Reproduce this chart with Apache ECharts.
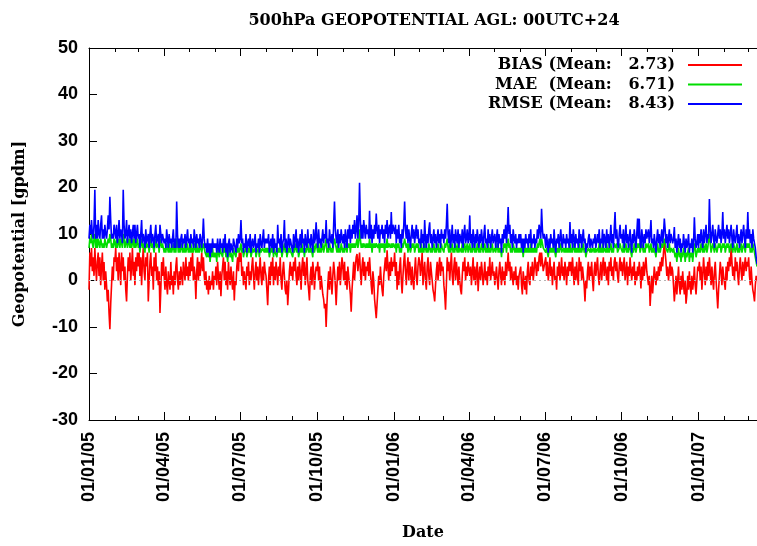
<!DOCTYPE html>
<html>
<head>
<meta charset="utf-8">
<script src="https://cdn.jsdelivr.net/npm/echarts@6/dist/echarts.min.js"></script>
<style>
html, body { margin: 0; padding: 0; background: #fff; }
#chart { width: 757px; height: 546px; }
</style>
</head>
<body>
<div id="chart"></div>
<script>
"use strict"

// daily scores from 01/01/05, one line per month
var bias = [
    -2,6,3,7,2,5,1,7,3,0,4,6,1,5,-1,3,6,0,4,-2,2,-1,-4.5,-2,-7,-10.5,-5,-1,3,0,5,
    4,7,2,5,0,6,3,-1,6,2,5,0,3,-2,-4.5,1,5,2,6,0,3,7,1,4,-1,5,2,6,
    3,6,1,5,-1,4,7,2,0,5,3,6,-4.5,0,4,6,1,3,-2,5,2,6,0,3,-1,2,-7,-2,4,1,5,
    1,-2,3,-1,-3,2,0,-2,4,-1,1,-3,2,-1,3,5,0,-2,2,-1,3,1,-1,4,2,0,5,1,3,0,
    4,1,5,2,6,0,3,1,-4,2,5,0,4,1,3,6,2,5,1,-1,2,-2,0,-3,1,-2,0,-1,2,-2,1,
    0,3,-1,4,1,-2,2,-3.4,1,3,5,0,4,-1,2,-2,4,1,-1,3,0,-2,2,-4.3,0,-1,3,5,2,6,
    4,6,1,3,-1,2,0,-2,3,1,4,-1,2,0,3,5,1,-2,2,4,0,3,-1,2,5,1,-1,3,0,4,2,
    1,-2,-5.3,0,3,-1,4,1,5,-1,3,0,4,2,-1,3,1,5,0,-2,2,4,1,-2,-3,0,-5.3,-2,2,4,1,
    3,0,4,2,5,1,-1,3,0,4,2,-2,3,5,1,4,-1,2,5,0,-2,-4.3,1,3,-1,4,2,-2,1,3,
    2,4,0,3,-2,1,-1,-3,-4,-6,-5,-10,-5,-1,2,-2,3,0,-3,1,4,2,-1,-5.3,-1,3,0,4,-1,2,5,
    3,0,4,-1,2,-2,3,1,-1,-3,-6.7,-2,1,4,0,3,5,5.7,2,4,6,2,-1,3,5,1,4,0,3,2,
    4,1,5,2,-1,-3,2,0,-4,-6,-8.1,-5,-2,1,-1,3,0,-2,-3.4,1,3,5,2,6.5,3,0,4,1,5,2,4,
    3,6,1,4,-2,2,-1,3,5,0,-2.8,1,4,6,2,-1,3,5,0,4,2,-1,3,0,-2,2,5,1,-1,3,5,
    4,1,3,6,-1,2,4,0,-2,3,5,1,-1,4,2,0,-2,-3,-4.5,-1,2,4,0,3,5,1,4,2,
    3,-1,-3,-6.3,-1,5,2,4,0,3,6,1,-1,3,5,0,4,2,-1,3,0,-2,-3,1,4,2,5,0,3,1,4,
    4,1,3,-1,2,5,0,3,-1,2,4,-2.3,1,3,0,4,2,-1,1,4,0,2,-1,3,1,5,0,2,4,1,
    2,-1,1,3,0,-2,2,4,1,-1,3,0,2,-1,4,1,3,6,2,4,0,3,1,-1,2,0,3,-1,1,-2,1,
    1,3,-1,-3,2,0,-2,1,-3,2,4,0,-1,3,1,4,0,2,5,3,1,4,2,5,6,3,6,4,2,3,
    3,5,1,4,0,2,5,1,3,-1,2,4,0,1,-2,3,1,4,0,2,5,1,3,0,4,2,-1,3,1,4,2,
    4,1,5,2,-1,3,0,4,1,-1,5,2,4,0,3,1,-1,-4.5,0,-1.7,2,4,0,3,1,4,0,-2.3,2,4,1,
    3,5,1,-1,2,4,0,3,5,1,4,2,0,3,-1,4,2,5,1,3,0,4,5,2,4,1,-0.5,3,5,2,
    4,1,3,5,0,2,4,-1,3,1,5,2,0,3,1,4,-1,2,0,3,1,4,2,-1.7,3,0,4,1,3,5,2,
    2,-1,1,-5.5,-2,1,-2.8,0,3,1,-1,2,0,3,1,4,2,5,3,6,8.5,6,4,1,3,0,2,4,1,3,
    2,-1,-4.5,-2,1,-3,0,3,-1,-3,1,-2,2,-1,-3,0,-5,-3,1,-2,2,-1,-3,1,-2,0,3,-1,-3,0,3,
    2,4,0,3,-2,1,5,2,-1,3,0,4,1,5,2,-1,3,0,-2,2,4,0,-3,-6,-2,1,4,2,-1,3,1,
    1,-2,3,0,4,2,5,3,7.3,4,1,3,0,5,2,4,1,-1,3,5,2,0,4,1,3,5,2,4,
    3,5,1,-1,3,0,-2,-3,-4.5,-1,1,0
];

var mae = [
    7,9,8,10,8,7,9,10,7,9,7,9,8,7,9,9,7,8,7,9,8,7,8,9,8,10,9,7,8,7,9,
    9,7,9,7,8,9,7,9,8,7,10,9,7,8,9,7,8,9,7,9,7,8,9,7,9,7,8,9,
    7,8,6,8,9,7,8,7,6,9,7,7,8,6,8,9,7,8,7,6,8,9,7,7,8,6,9,8,7,8,7,
    6,7,6,8,7,6,8,6,7,6,7,8,6,7,6,9,8,6,7,6,7,8,6,7,6,8,6,7,8,6,
    7,6,8,6,7,6,8,7,6,8,6,7,6,8,7,6,7,8,7,6,6,5,7,5,6,4,6,5,7,5,6,
    5,6,4,7,6,5,7,6,6,5,7,6,7,5,6,4,6,7,5,6,6,4,7,6,6,5,7,6,7,6,
    7,8,6,7,5,6,6,7,5,6,7,6,7,5,6,7,6,6,7,5,6,6,7,5,7,6,6,7,7,6,7,
    6,7,6,7,5,6,7,6,7,5,7,6,6,5,7,6,7,6,7,5,6,7,8,6,7,5,6,7,6,7,6,
    6,5,7,6,7,8,6,7,5,6,7,6,8,6,7,5,7,6,6,8,6,7,6,7,6,5,8,6,7,8,
    7,6,8,6,7,6,7,8,6,7,7,9,6,7,6,8,7,6,7,6,8,9,8,7,6,8,6,7,6,8,7,
    6,7,6,8,7,6,8,7,8,6,8,7,8,7,8,7,8,9,7,8,11,9,7,8,7,8,8,7,8,7,
    8,7,9,7,8,6,8,7,8,7,8,8,7,8,6,8,7,8,7,8,6,8,7,9,7,8,8,7,8,7,8,
    8,7,8,6,8,7,8,6,7,6,8,7,8,9,8,7,8,6,8,7,6,7,8,7,8,6,7,8,7,8,6,
    7,6,8,6,7,6,8,7,6,7,6,8,8,6,7,6,7,8,6,7,6,7,8,6,7,6,8,7,
    7,6,8,7,8,9,7,6,8,6,7,8,6,7,6,8,7,6,8,6,7,7,6,8,6,7,8,6,7,8,6,
    7,8,6,7,6,8,7,6,7,6,8,7,6,7,6,8,7,6,7,8,6,7,6,8,6,7,6,7,8,6,
    6,7,6,7,8,6,7,6,7,5,7,6,8,7,8,6,8,9,7,8,6,7,6,8,7,6,7,6,7,6,7,
    6,7,6,7,5,7,6,7,6,7,6,7,6,8,6,7,6,7,6,7,6,8,7,8,9,7,9,8,7,7,
    7,6,7,6,5,7,6,7,6,7,6,8,6,5,7,6,7,6,7,8,6,6,7,6,7,6,7,6,7,6,8,
    6,7,6,8,7,6,7,6,7,6,8,6,7,6,7,8,6,7,5,6,6,7,7,6,7,6,6,7,6,7,6,
    6,7,6,8,6,7,6,8,6,7,7,6,8,6,7,6,7,8,6,7,6,8,8,7,8,6,6,7,8,7,
    7,6,8,6,7,8,6,7,6,7,8,6,5,7,6,8,7,6,7,8,7,8,6,6,8,7,6,7,6,8,7,
    7,8,6,7,8,6,7,6,7,6,5,7,8,6,7,6,7,8,7,8,9,8,7,7,6,7,8,6,7,7,
    6,7,7,5,6,4,6,7,5,6,4,6,5,7,6,4,6,5,6,7,4,6,5,6,4,6,8,7,5,6,7,
    6,7,6,8,7,6,8,6,7,8,6,7,7,10,8,6,7,8,7,6,8,7,6,7,8,7,8,6,7,8,7,
    8,6,7,8,7,8,6,7,8,7,6,8,7,6,7,8,6,7,6,7,8,6,7,8,7,6,8,7,
    8,7,8,6,7,6,8,7,6,5,5,3
];

var rmse = [
    9,12,10,13,10,9,12,19.5,9,12,9,13,10,9,12,14,9,11,9,12,10,9,11,14,11,18,13,9,10,9,12,
    12,9,12,8,10,13,9,11,10,8,19.5,12,9,10,13,8,10,12,9,11,8,10,12,9,12,8,10,12,
    9,10,7,10,13,8,10,9,7,11,8,9,10,7,10,12,8,10,9,7,10,12,8,9,10,7,12,10,8,10,9,
    8,9,7,11,9,7,10,8,9,7,9,11,7,9,7,17,10,7,9,7,9,10,7,9,8,10,7,9,11,8,
    9,7,10,8,9,7,11,9,7,10,8,9,7,10,9,7,9,13.3,9,7,8,6,9,6,8,5,8,6,9,7,8,
    7,8,6,9,7,6,9,7,8,6,9,7,10,6,8,5,8,9,6,8,7,6,9,8,7,6,9,7,10,8,
    9,13,8,9,6,8,7,10,6,8,9,7,10,6,8,9,7,8,10,6,8,7,9,6,10,8,7,9,11,7,9,
    8,9,8,10,6,8,9,7,10,6,9,7,8,6,12,8,9,7,10,6,8,9,13,7,9,6,8,10,7,9,8,
    8,6,10,7,9,11,7,9,6,8,10,7,11,8,9,6,10,8,7,11,8,9,7,10,8,6,11,8,9,12.5,
    9,7,11,8,9,7,9,11,8,10,9,13,8,9,7,11,9,8,10,7,12,17,11,9,8,11,7,10,8,11,9,
    8,10,7,11,9,7,11,9,12,8,11,9,12,10,13,9,11,14,9,12,21,13,9,12,9,13,11,9,12,10,
    11,9,15,9,12,8,11,9,12,10,14.4,11,9,12,8,11,10,12,9,11,8,12,10,13,9,11,12,9,14.7,10,12,
    11,10,12,8,11,9,12,8,10,7,11,9,12,17,11,9,12,8,11,9,7,10,12,9,11,8,10,12,9,11,8,
    9,7,11,8,10,7,13,9,7,10,8,11,12.5,8,10,7,9,11,8,10,7,9,11,8,10,7,11,9,
    10,8,11,9,12,16.5,10,8,11,7,9,12,8,10,7,11,9,8,11,7,10,9,8,11,7,10,12,8,9,11,8,
    9,14,8,10,7,11,9,7,10,8,11,9,7,10,8,11,9,7,10,12,8,9,7,11,8,10,7,9,11,8,
    8,10,7,9,11,7,10,8,9,6,10,8,11,9,12,8,11,15.8,10,12,8,10,7,11,9,8,10,7,9,8,10,
    8,10,7,9,6,9,7,10,8,9,7,10,8,11,7,9,8,10,7,9,8,11,9,12,11,9,15.4,11,9,10,
    9,7,10,8,6,9,7,10,8,9,7,11,8,6,9,8,10,7,9,11,8,7,10,8,9,7,10,8,9,7,12.6,
    8,10,7,11,9,7,10,8,9,7,11,8,10,7,9,11,8,9,6,8,7,9,10,7,9,8,7,9,8,10,7,
    7,10,8,11,7,9,8,11,7,10,9,7,11,8,10,7,9,12,8,10,7,11,14.7,9,11,8,7,10,12,9,
    10,8,11,7,9,12,8,10,7,9,11,8,6,10,8,11,9,7,10,13.3,9,13.3,8,7,11,9,7,10,8,11,9,
    9,11,8,10,13,8,9,7,10,8,6,9,11,8,10,7,9,11,8,10,13.3,11,8,10,7,9,11,8,10,9,
    8,9,11.5,7,9,6,8,10,7,9,6,8,7,10,8,6,9,7,8,10,6,8,7,9,6,8,13.6,9,7,8,10,
    7,10,8,11,9,7,11,8,10,12,8,10,9,17.5,11,8,10,12,9,7,11,9,8,10,12,9,11,8,10,14.7,9,
    11,8,10,12,9,11,8,10,12,9,7,11,9,8,10,12,8,10,7,9,11,8,10,12,9,7,11,9,
    14.7,9,11,8,10,7,11,9,8,7,5,3.5
];

var seriesNames = ['BIAS (Mean:   2.73)', 'MAE  (Mean:   6.71)', 'RMSE (Mean:   8.43)'];
var seriesColors = ['#ff0000', '#00dd00', '#0000ff'];

function two(n){
    return n < 10 ? '0' + n : '' + n;
}

function dateList(count){
    var list = [];
    var t0 = Date.UTC(2005, 0, 1);
    for(let i = 0; i < count; i++){
        let d = new Date(t0 + i * 86400000);
        list.push(two(d.getUTCDate()) + '/' + two(d.getUTCMonth() + 1) + '/' + two(d.getUTCFullYear() % 100));
    }
    return list;
}

function isMonthStart(idx, value){
    return value.slice(0, 2) === '01';
}

function isQuarterStart(idx, value){
    var m = value.slice(3, 5);
    return isMonthStart(idx, value) && (m === '01' || m === '04' || m === '07' || m === '10');
}

var dates = dateList(bias.length);

function timeAxis(position, major, showLine, showLabel){
    return {
        type: 'category',
        position: position,
        data: dates,
        boundaryGap: false,
        axisLine: { show: showLine, onZero: false, lineStyle: { color: '#000', width: 1 } },
        axisTick: {
            show: true,
            inside: true,
            length: major ? 8 : 4,
            interval: major ? isQuarterStart : isMonthStart,
            lineStyle: { color: '#000', width: 1 }
        },
        axisLabel: {
            show: showLabel,
            interval: isQuarterStart,
            rotate: 90,
            margin: 12,
            color: '#000',
            fontFamily: 'Liberation Sans',
            fontWeight: 'bold',
            fontSize: 18
        },
        splitLine: { show: false },
        name: showLabel ? 'Date' : '',
        nameLocation: 'middle',
        nameGap: 105,
        nameTextStyle: { fontFamily: 'DejaVu Serif', fontWeight: 'bold', fontSize: 16, color: '#000' }
    };
}

function lineSeries(name, data, color){
    return {
        name: name,
        type: 'line',
        data: data,
        symbol: 'none',
        showSymbol: false,
        xAxisIndex: 0,
        lineStyle: { color: color, width: 1.6 },
        itemStyle: { color: color }
    };
}

var chart = echarts.init(document.getElementById('chart'));

var series = [
    lineSeries(seriesNames[0], bias, seriesColors[0]),
    lineSeries(seriesNames[1], mae, seriesColors[1]),
    lineSeries(seriesNames[2], rmse, seriesColors[2])
];
// zero axis, dotted grey
series[0].markLine = {
    silent: true,
    symbol: ['none', 'none'],
    label: { show: false },
    lineStyle: { color: '#b4b4b4', type: [2, 3], width: 1 },
    data: [{ yAxis: 0 }]
};

var option = {
    animation: false,
    backgroundColor: '#fff',
    title: {
        text: '500hPa GEOPOTENTIAL AGL: 00UTC+24',
        left: 429,
        top: 8,
        textAlign: 'center',
        textStyle: { fontFamily: 'DejaVu Serif', fontWeight: 'bold', fontSize: 16, color: '#000' }
    },
    legend: seriesNames.map(function(name, i){
        return {
            data: [name],
            right: 15,
            top: 57 + i * 19.5,
            padding: 0,
            align: 'right',
            icon: 'rect',
            itemWidth: 54,
            itemHeight: 2,
            selectedMode: false,
            textStyle: { fontFamily: 'DejaVu Serif', fontWeight: 'bold', fontSize: 16, color: '#000', padding: [0, 8, 0, 0] }
        };
    }),
    grid: { left: 89, right: 0, top: 48, bottom: 123 },
    xAxis: [
        timeAxis('bottom', true, true, true),
        timeAxis('bottom', false, false, false),
        timeAxis('top', true, true, false),
        timeAxis('top', false, false, false)
    ],
    yAxis: {
        type: 'value',
        min: -30,
        max: 50,
        interval: 10,
        axisLine: { show: true, lineStyle: { color: '#000', width: 1 } },
        axisTick: { show: true, inside: true, length: 8, lineStyle: { color: '#000' } },
        axisLabel: { margin: 11, color: '#000', fontFamily: 'Liberation Sans', fontWeight: 'bold', fontSize: 18 },
        splitLine: { show: false },
        name: 'Geopotential [gpdm]',
        nameLocation: 'middle',
        nameGap: 61,
        nameTextStyle: { fontFamily: 'DejaVu Serif', fontWeight: 'bold', fontSize: 16, color: '#000' }
    },
    series: series
};

chart.setOption(option);
</script>
</body>
</html>
